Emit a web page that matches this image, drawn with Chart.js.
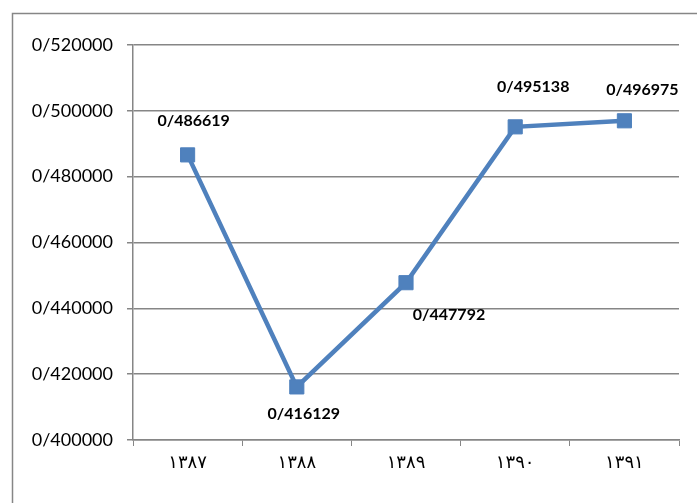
<!DOCTYPE html>
<html>
<head>
<meta charset="utf-8">
<script src="https://cdn.jsdelivr.net/npm/chart.js@4"></script>
<style>
  html, body { margin: 0; padding: 0; background: #fff; }
  #wrap { width: 697px; height: 503px; position: relative; }
</style>
</head>
<body>
<div id="wrap"><canvas id="chart"></canvas></div>
<script>
// years (Persian calendar)
const years = ['۱۳۸۷', '۱۳۸۸', '۱۳۸۹', '۱۳۹۰', '۱۳۹۱'];
const values = [0.486619, 0.416129, 0.447792, 0.495138, 0.496975];
const valueLabels = ['0/486619', '0/416129', '0/447792', '0/495138', '0/496975'];
const yTicks = [0.40, 0.42, 0.44, 0.46, 0.48, 0.50, 0.52];

// where each value label sits relative to its point (as placed in the original)
const labelShift = [[6, -34], [7, 27], [43, 32], [18, -40], [18, -31]];

const frame = {
    id: 'frame',
    beforeDraw(chart) {
        const ctx = chart.ctx;
        ctx.save();
        ctx.fillStyle = '#fff';
        ctx.fillRect(0, 0, chart.width, chart.height);
        ctx.strokeStyle = '#868686';
        ctx.lineWidth = 1.5;
        ctx.strokeRect(12.5, 13.5, 800, 600);
        ctx.restore();
    }
};

const pointLabels = {
    id: 'pointLabels',
    afterDatasetsDraw(chart) {
        const ctx = chart.ctx;
        const meta = chart.getDatasetMeta(0);
        ctx.save();
        ctx.font = 'bold 16px Lato, "Open Sans", sans-serif';
        ctx.fillStyle = '#000';
        ctx.textAlign = 'center';
        ctx.textBaseline = 'middle';
        meta.data.forEach((pt, i) => {
            ctx.fillText(valueLabels[i], pt.x + labelShift[i][0], pt.y + labelShift[i][1]);
        });
        ctx.restore();
    }
};

new Chart(document.getElementById('chart'), {
    type: 'line',
    data: {
        labels: years,
        datasets: [{
            data: values,
            borderColor: '#4F81BD',
            backgroundColor: '#4F81BD',
            borderWidth: 4.5,
            pointStyle: 'rect',
            pointRadius: 10,
            pointBorderWidth: 1,
            pointBorderColor: '#4F81BD',
            tension: 0
        }]
    },
    options: {
        responsive: true,
        maintainAspectRatio: false,
        animation: false,
        layout: { padding: { left: 0, right: 18, top: 45, bottom: 0 } },
        plugins: {
            legend: { display: false },
            tooltip: { enabled: false }
        },
        scales: {
            x: {
                offset: true,
                afterFit: s => { s.height = 63; },
                grid: {
                    offset: true,
                    drawOnChartArea: false,
                    tickLength: 6,
                    color: '#868686'
                },
                border: { color: '#868686', width: 1.5 },
                ticks: {
                    padding: 7,
                    color: '#000',
                    font: { family: '"DejaVu Sans"', size: 18 }
                }
            },
            y: {
                min: 0.40,
                max: 0.52,
                afterFit: s => { s.width = 133; },
                afterBuildTicks: s => { s.ticks = yTicks.map(v => ({ value: v })); },
                grid: {
                    color: '#868686',
                    lineWidth: 1.5,
                    tickLength: 6
                },
                border: { color: '#868686', width: 1.5 },
                ticks: {
                    padding: 14,
                    color: '#000',
                    font: { family: 'Lato, "Open Sans", sans-serif', size: 18 },
                    callback: v => '0/' + v.toFixed(6).split('.')[1]
                }
            }
        }
    },
    plugins: [frame, pointLabels]
});
</script>
</body>
</html>
